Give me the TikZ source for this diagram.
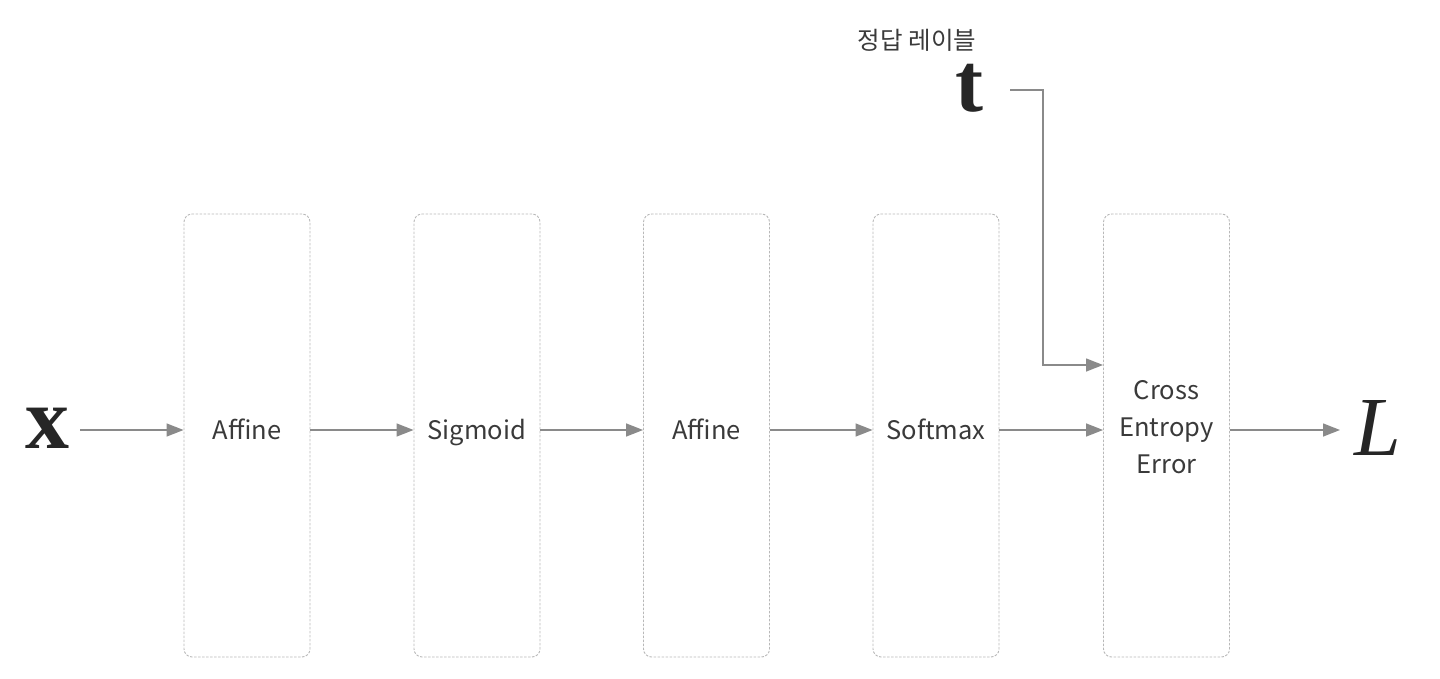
\documentclass[tikz,border=0pt]{standalone}
\usepackage{fontspec}
\setmainfont{Liberation Serif}
\newfontfamily\kr{Noto Sans CJK KR}
\usetikzlibrary{arrows.meta}
\definecolor{boxline}{HTML}{B8B8B8}
\definecolor{arr}{HTML}{8A8A8A}
\definecolor{txt}{HTML}{3A3A3A}
\begin{document}
\begin{tikzpicture}[x=1pt,y=-1pt,
  layer/.style={draw=boxline, line width=0.9pt, dash pattern=on 2.5pt off 1.5pt, rounded corners=8pt,
     minimum width=126pt, minimum height=443pt, inner sep=0pt},
  labfont/.style={font=\kr\fontsize{25.5}{37}\selectfont, text=txt, inner sep=0pt},
  lab/.style={labfont, text height=18pt, text depth=6pt},
  flow/.style={draw=arr, line width=1.4pt, -{Triangle[length=17pt,width=13pt]}},
  sym/.style={inner sep=0pt, text=black!85}]
\useasboundingbox (0,0) rectangle (1440,679);
\node[sym, font=\fontsize{88}{88}\selectfont\bfseries] (x) at (47,428) {x};
\node[layer] (a1) at (247,435.5) {};
\node[layer] (sg) at (477,435.5) {};
\node[layer] (a2) at (706.5,435.5) {};
\node[layer] (sm) at (936,435.5) {};
\node[layer] (ce) at (1166.5,435.5) {};
\node[lab] (la1) at (247,433) {Affine};
\node[lab] (lsg) at (477,433) {Sigmoid};
\node[lab] (la2) at (706.5,433) {Affine};
\node[lab] (lsm) at (936,433) {Softmax};
\node[labfont, align=center] (lce) at (1166.5,427) {Cross\\Entropy\\Error};
\node[sym, font=\fontsize{84}{84}\selectfont\itshape] (L) at (1378,428) {L};
\node[sym, font=\fontsize{84}{84}\selectfont\bfseries, anchor=base] (t) at (969,112) {t};
\node[font=\kr\fontsize{24.5}{28}\selectfont, text=txt] (lbl) at (917,40) {정답 레이블};
\coordinate (xs) at (80,430);
\coordinate (ls) at (1340,430);
\coordinate (ts) at (1010,90);
\coordinate (tk) at (1043,90);
\coordinate (tin) at (1103,365);
\draw[flow] (xs) -- (a1.west |- xs);
\draw[flow] (a1.east |- xs) -- (sg.west |- xs);
\draw[flow] (sg.east |- xs) -- (a2.west |- xs);
\draw[flow] (a2.east |- xs) -- (sm.west |- xs);
\draw[flow] (sm.east |- xs) -- (ce.west |- xs);
\draw[flow] (ce.east |- xs) -- (ls);
\draw[flow] (ts) -- (tk) |- (tin);
\end{tikzpicture}
\end{document}
